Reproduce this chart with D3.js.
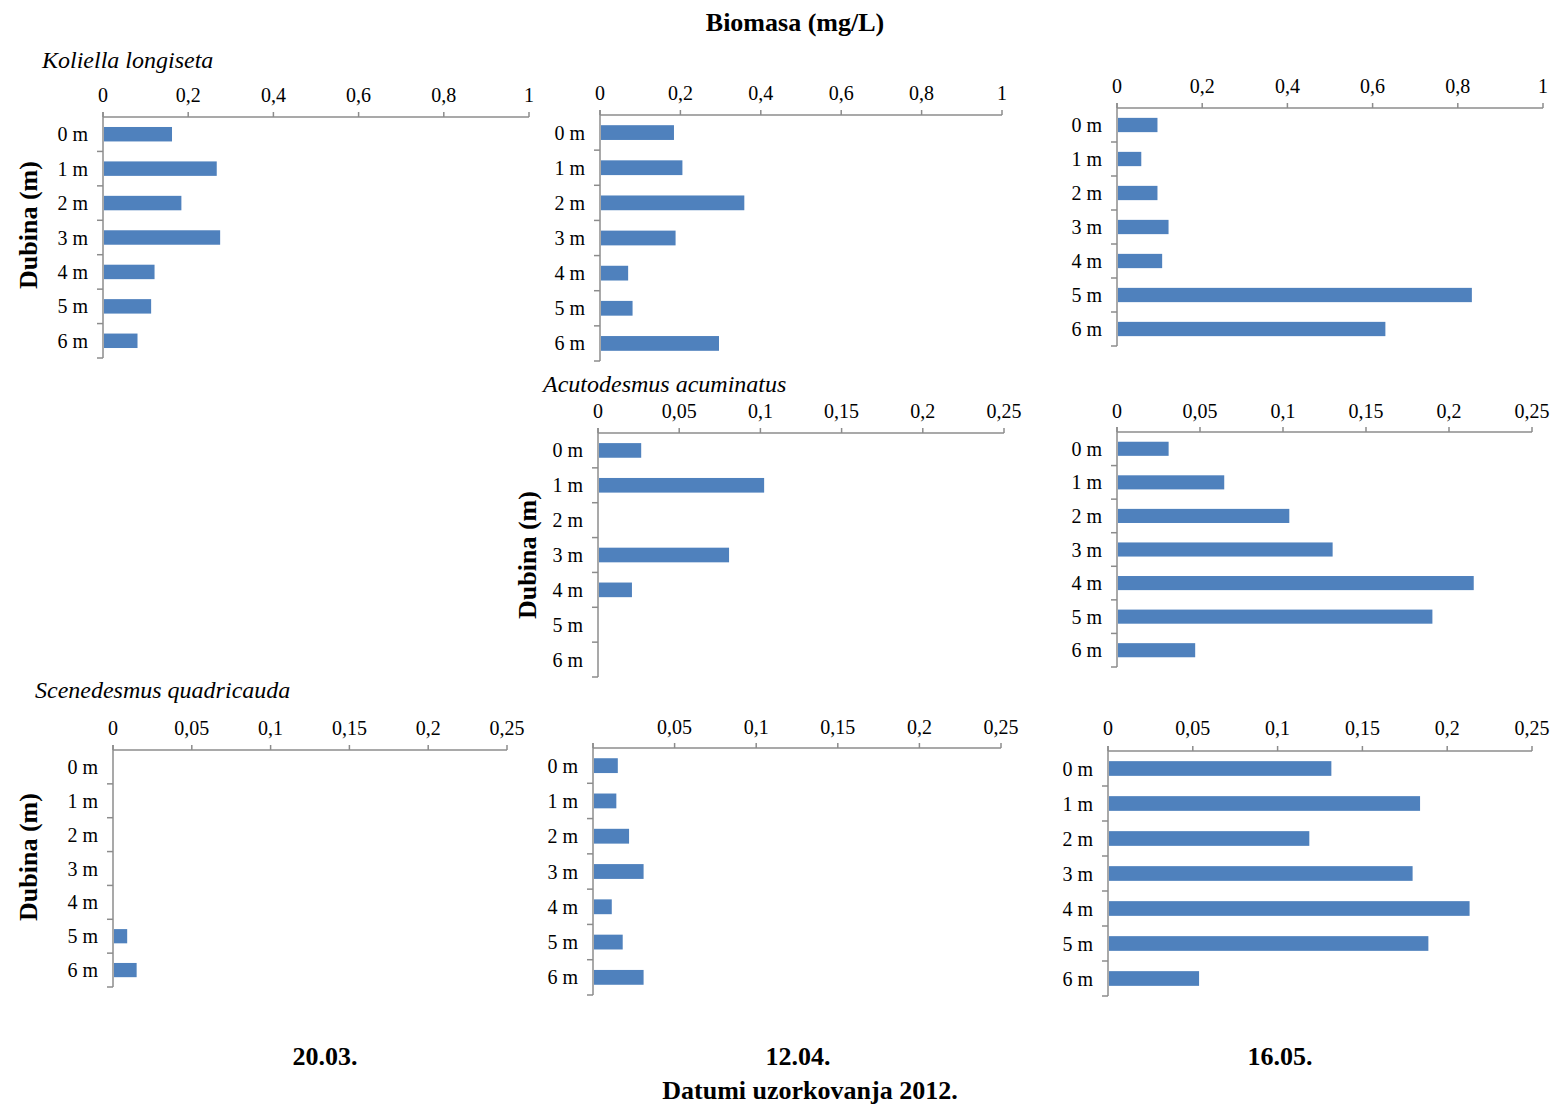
<!DOCTYPE html>
<html><head><meta charset="utf-8">
<script src="https://cdn.jsdelivr.net/npm/d3@7"></script>
<style>
body{margin:0;background:#fff;}
text{font-family:"Liberation Serif","Times New Roman",serif;fill:#000;}
</style></head>
<body><svg id="c" width="1556" height="1106"></svg>
<script>
// ---- data ----
const depths = ["0 m","1 m","2 m","3 m","4 m","5 m","6 m"];
const dates = ["20.03.","12.04.","16.05."];
const species = ["Koliella longiseta","Acutodesmus acuminatus","Scenedesmus quadricauda"];
const ticksKoliella = [0,0.2,0.4,0.6,0.8,1];
const ticksSmall = [0,0.05,0.1,0.15,0.2,0.25];
const koliella_2003 = [0.162,0.267,0.184,0.275,0.121,0.113,0.081];
const koliella_1204 = [0.184,0.205,0.359,0.188,0.070,0.081,0.296];
const koliella_1605 = [0.095,0.057,0.095,0.121,0.106,0.833,0.630];
const acutodesmus_1204 = [0.0266,0.1023,0,0.0807,0.0209,0,0];
const acutodesmus_1605 = [0.0311,0.0646,0.1038,0.1299,0.2149,0.190,0.0471];
const scenedesmus_2003 = [0,0,0,0,0,0.009,0.015];
const scenedesmus_1204 = [0.0152,0.0143,0.0221,0.031,0.0115,0.0182,0.031];
const scenedesmus_1605 = [0.1317,0.184,0.1187,0.1796,0.2132,0.1889,0.0537];

// ---- layout ----
const panels = [
  {vals:koliella_2003, ticks:ticksKoliella, max:1, x0:103, x1:529, y0:117, y1:358, lab:95, ylab:[28,225]},
  {vals:koliella_1204, ticks:ticksKoliella, max:1, x0:600, x1:1002, y0:115, y1:361, lab:93},
  {vals:koliella_1605, ticks:ticksKoliella, max:1, x0:1117, x1:1543, y0:108, y1:346, lab:86},
  {vals:acutodesmus_1204, ticks:ticksSmall, max:0.25, x0:598, x1:1004, y0:433, y1:677, lab:411, ylab:[527,555]},
  {vals:acutodesmus_1605, ticks:ticksSmall, max:0.25, x0:1117, x1:1532, y0:432, y1:667, lab:411},
  {vals:scenedesmus_2003, ticks:ticksSmall, max:0.25, x0:113, x1:507, y0:750, y1:987, lab:728, ylab:[28,857]},
  {vals:scenedesmus_1204, ticks:ticksSmall, max:0.25, x0:593, x1:1001, y0:748, y1:995, lab:727, hideZero:true},
  {vals:scenedesmus_1605, ticks:ticksSmall, max:0.25, x0:1108, x1:1532, y0:751, y1:996, lab:728}
];
const fmt = d => String(d).replace('.', ',');
const svg = d3.select('#c');
const gray = '#8c8c8c';
const blue = '#4f81bd';

panels.forEach(p => {
  const x = d3.scaleLinear().domain([0,p.max]).range([p.x0,p.x1]);
  const y = d3.scaleBand().domain(depths).range([p.y0,p.y1]);
  const g = svg.append('g');
  const bh = y.bandwidth()*0.42;
  g.selectAll('rect').data(depths).enter().append('rect')
    .attr('x', x(0)+1)
    .attr('y', d => y(d)+y.bandwidth()/2-bh/2)
    .attr('width', (d,i) => Math.max(0, x(p.vals[i])-x(0)-1))
    .attr('height', bh)
    .attr('fill', blue);
  g.append('line').attr('x1',p.x0).attr('x2',p.x1).attr('y1',p.y0).attr('y2',p.y0)
    .attr('stroke',gray).attr('stroke-width',1.5);
  p.ticks.forEach(t => {
    g.append('line').attr('x1',x(t)).attr('x2',x(t)).attr('y1',p.y0-5).attr('y2',p.y0)
      .attr('stroke',gray).attr('stroke-width',1.5);
    if (!(p.hideZero && t===0))
      g.append('text').attr('x',x(t)).attr('y',p.lab).attr('dy','0.35em')
        .attr('text-anchor','middle').style('font-size','20px').text(fmt(t));
  });
  g.append('line').attr('x1',p.x0).attr('x2',p.x0).attr('y1',p.y0-5).attr('y2',p.y1)
    .attr('stroke',gray).attr('stroke-width',1.5);
  depths.forEach((d,i) => {
    const yy = y(d)+y.bandwidth();
    g.append('line').attr('x1',p.x0-6).attr('x2',p.x0).attr('y1',yy).attr('y2',yy)
      .attr('stroke',gray).attr('stroke-width',1.5);
    g.append('text').attr('x',p.x0-15).attr('y',y(d)+y.bandwidth()/2).attr('dy','0.35em')
      .attr('text-anchor','end').style('font-size','20px').text(d);
  });
  if (p.ylab) {
    svg.append('text').attr('transform',`translate(${p.ylab[0]},${p.ylab[1]}) rotate(-90)`)
      .attr('text-anchor','middle').attr('dy','0.35em')
      .style('font-size','26px').style('font-weight','bold').text('Dubina (m)');
  }
});

const spPos = [[42,60],[543,384],[35,690]];
species.forEach((s,i) => {
  svg.append('text').attr('x',spPos[i][0]).attr('y',spPos[i][1]).attr('dy','0.35em')
    .style('font-size','24px').style('font-style','italic').text(s);
});

svg.append('text').attr('x',795).attr('y',22).attr('dy','0.35em').attr('text-anchor','middle')
  .style('font-size','26px').style('font-weight','bold').text('Biomasa (mg/L)');
const datePos = [325,798,1280];
dates.forEach((d,i) => {
  svg.append('text').attr('x',datePos[i]).attr('y',1056).attr('dy','0.35em').attr('text-anchor','middle')
    .style('font-size','26px').style('font-weight','bold').text(d);
});
svg.append('text').attr('x',810).attr('y',1090).attr('dy','0.35em').attr('text-anchor','middle')
  .style('font-size','26px').style('font-weight','bold').text('Datumi uzorkovanja 2012.');
</script></body></html>
